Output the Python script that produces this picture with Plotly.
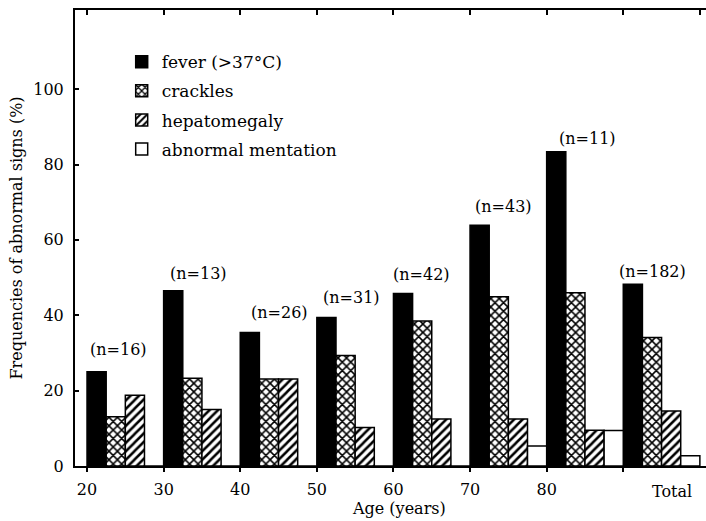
import plotly.graph_objects as go

# ---- data ----
age_groups = ["20", "30", "40", "50", "60", "70", "80", "Total"]
fever = [25.0, 46.5, 35.4, 39.4, 45.8, 63.9, 83.4, 48.2]
crackles = [13.1, 23.3, 23.1, 29.3, 38.5, 44.9, 46.0, 34.1]
hepatomegaly = [18.8, 15.0, 23.1, 10.2, 12.5, 12.5, 9.5, 14.6]
abnormal_mentation = [0, 0, 0, 0, 0, 5.3, 9.4, 2.7]
n_labels = ["(n=16)", "(n=13)", "(n=26)", "(n=31)", "(n=42)", "(n=43)", "(n=11)", "(n=182)"]
series_names = ["fever (>37°C)", "crackles", "hepatomegaly", "abnormal mentation"]
y_ticks = [0, 20, 40, 60, 80, 100]

# ---- layout helpers (positions / styles) ----
x_pos = [20 + 10 * i for i in range(len(age_groups))]
n_label_x = [24.05, 34.5, 45.1, 54.5, 63.6, 74.3, 85.3, 93.8]
n_label_y = [30.8, 51.2, 40.7, 44.8, 50.7, 68.8, 87.0, 51.5]
FONT = "DejaVu Serif"
BAR_W = 2.5

styles = [
    dict(color="black", pattern=None),
    dict(color="white", pattern=dict(shape="x", fgcolor="black", bgcolor="white", size=6, solidity=0.45, fillmode="replace")),
    dict(color="white", pattern=dict(shape="/", fgcolor="black", bgcolor="white", size=6, solidity=0.42, fillmode="replace")),
    dict(color="white", pattern=None),
]

fig = go.Figure()
for i, (name, vals) in enumerate(zip(series_names, [fever, crackles, hepatomegaly, abnormal_mentation])):
    marker = dict(color=styles[i]["color"], line=dict(color="black", width=1.5))
    if styles[i]["pattern"]:
        marker["pattern"] = styles[i]["pattern"]
    fig.add_trace(go.Bar(
        x=x_pos, y=vals, name=name, width=BAR_W, offset=i * BAR_W,
        marker=marker, legendgroup=name,
    ))

# invisible trace to activate top axis
fig.add_trace(go.Scatter(x=[None], y=[None], xaxis="x2", showlegend=False, hoverinfo="skip"))

for xv, yv, t in zip(n_label_x, n_label_y, n_labels):
    fig.add_annotation(x=xv, y=yv, text=t, showarrow=False,
                       font=dict(family=FONT, size=16, color="black"),
                       xanchor="center", yanchor="middle")

fig.add_annotation(x=96.4, y=0, yref="y", text="Total", showarrow=False,
                   font=dict(family=FONT, size=16, color="black"),
                   xanchor="center", yanchor="middle", yshift=-25)
fig.add_annotation(x=0.513, y=0, xref="paper", yref="paper", text="Age (years)", showarrow=False,
                   font=dict(family=FONT, size=16, color="black"),
                   xanchor="center", yanchor="middle", yshift=-42)

xr = [18.43, 100.8]
fig.update_layout(
    width=706, height=521,
    margin=dict(l=75, r=0, t=10, b=55),
    paper_bgcolor="white", plot_bgcolor="white",
    barmode="overlay",
    font=dict(family=FONT, size=16, color="black"),
    showlegend=True,
    legend=dict(x=0.074, y=0.925, xanchor="left", yanchor="top",
                bgcolor="rgba(0,0,0,0)", font=dict(family=FONT, size=17),
                tracegroupgap=4, traceorder="grouped"),
    xaxis=dict(range=xr, tickvals=x_pos, ticktext=age_groups[:-1] + [""],
               ticks="outside", ticklen=4, tickcolor="black", tickwidth=1.5,
               showline=True, linecolor="black", linewidth=2,
               showgrid=False, zeroline=False, ticklabelstandoff=4,
               tickfont=dict(family=FONT, size=16)),
    xaxis2=dict(range=xr, overlaying="x", side="top", tickvals=x_pos + [100],
                ticks="inside", ticklen=5, tickcolor="black", tickwidth=1.5,
                showticklabels=False, showline=True, linecolor="black", linewidth=2,
                showgrid=False, zeroline=False),
    yaxis=dict(range=[0, 121], tickvals=y_ticks, ticks="inside", ticklen=4,
               tickcolor="black", tickwidth=1.5,
               showline=True, linecolor="black", linewidth=2,
               showgrid=False, zeroline=False, ticklabelstandoff=6,
               tickfont=dict(family=FONT, size=16),
               title=dict(text="Frequencies of abnormal signs (%)", standoff=7,
                          font=dict(family=FONT, size=16))),
)

fig.write_html("out.html")
